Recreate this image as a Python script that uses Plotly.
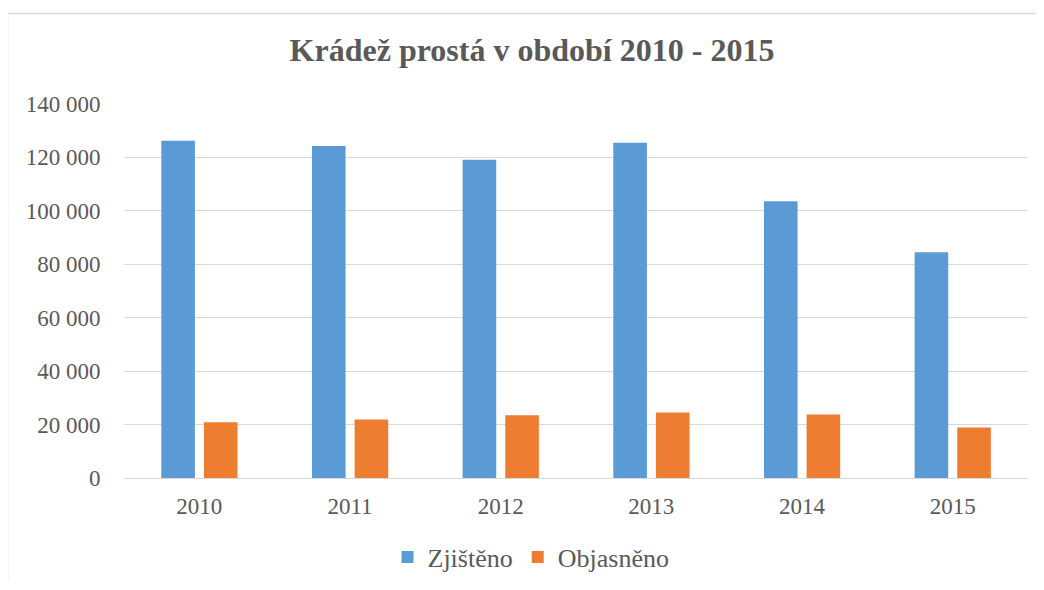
import plotly.graph_objects as go

years = ["2010", "2011", "2012", "2013", "2014", "2015"]
zjisteno = [126250, 124260, 119140, 125500, 103630, 84490]
objasneno = [20860, 21870, 23480, 24490, 23740, 18880]
y_tickvals = [0, 20000, 40000, 60000, 80000, 100000, 120000, 140000]
y_ticktext = ["0", "20 000", "40 000", "60 000", "80 000", "100 000", "120 000", "140 000"]

# page body has an 8px margin; work in reference-pixel coordinates and subtract it
OFF = 8
W, H = 1044 - 2 * OFF, 590 - 2 * OFF
X0, X1 = 124.4 - OFF, 1027.8 - OFF   # plot area left/right in figure px
Y0, Y1 = 103.5 - OFF, 477.7 - OFF    # plot area top/bottom in figure px
L, R, T, B = X0, W - X1, Y0, H - Y1
pw, ph = X1 - X0, Y1 - Y0

TXT = "#595959"
SERIF = "Liberation Serif, Times New Roman, serif"


def px_x(p):
    return (p - OFF - X0) / pw


def px_y(p):
    return (Y1 - (p - OFF)) / ph


fig = go.Figure()
fig.add_trace(go.Bar(x=years, y=zjisteno, name="Zjištěno", marker_color="#5B9BD5",
                     marker_line_width=0, width=0.223, offset=-0.2525))
fig.add_trace(go.Bar(x=years, y=objasneno, name="Objasněno", marker_color="#ED7D31",
                     marker_line_width=0, width=0.223, offset=0.0305))

fig.add_shape(type="rect", xref="paper", yref="paper",
              x0=px_x(8), x1=px_x(1080), y0=px_y(640), y1=px_y(13),
              line=dict(color="#d9d9d9", width=1.5), fillcolor="rgba(0,0,0,0)", layer="below")

fig.update_layout(
    width=W, height=H,
    margin=dict(l=L, r=R, t=T, b=B, pad=0, autoexpand=False),
    paper_bgcolor="white", plot_bgcolor="white",
    barmode="overlay",
    font=dict(family=SERIF, color=TXT),
    title=dict(text="<b>Krádež prostá v období 2010 - 2015</b>",
               font=dict(size=32, color=TXT, family=SERIF),
               x=(532 - OFF) / W, xanchor="center", xref="container",
               y=1 - (50 - OFF) / H, yanchor="middle", yref="container"),
    showlegend=True,
    legend=dict(orientation="h", xref="container", x=(531 - OFF) / W, xanchor="center",
                yref="container", y=1 - (557 - OFF) / H, yanchor="middle",
                font=dict(size=26, color=TXT, family=SERIF),
                itemwidth=30, tracegroupgap=0),
    xaxis=dict(type="category", showgrid=False, showline=True, linecolor="#d9d9d9", linewidth=1.3,
               ticks="outside", ticklen=7, tickcolor="rgba(0,0,0,0)",
               tickfont=dict(size=23, color=TXT, family=SERIF), range=[-0.5, 5.5]),
    yaxis=dict(range=[0, 140000], tickvals=y_tickvals, ticktext=y_ticktext,
               showgrid=True, gridcolor="#d9d9d9", gridwidth=1.3, zeroline=False,
               showline=False, ticks="outside", ticklen=18, tickcolor="rgba(0,0,0,0)",
               tickfont=dict(size=23, color=TXT, family=SERIF)),
)

fig.write_html("out.html")
